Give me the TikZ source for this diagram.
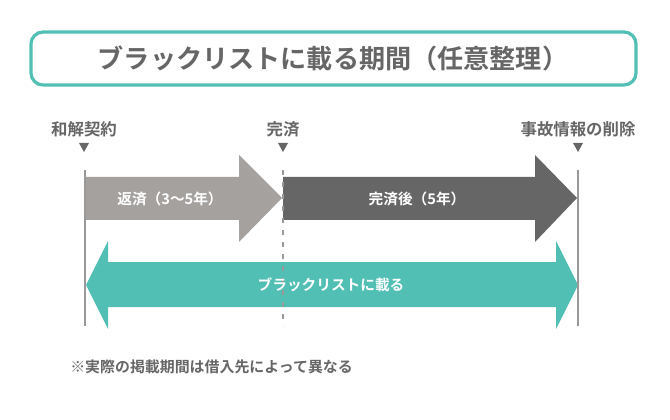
\documentclass[tikz,border=0pt]{standalone}
\usepackage{fontspec}
\setmainfont{Noto Sans CJK JP}[BoldFont={* Bold}]
\newfontfamily\cjk{Noto Sans CJK JP Bold}
\definecolor{tealc}{RGB}{82,191,180}
\definecolor{lgray}{RGB}{165,161,159}
\definecolor{dgray}{RGB}{102,102,102}
\begin{document}
\begin{tikzpicture}[x=0.75pt,y=-0.75pt,
  txt/.style={font=\cjk, text=dgray, inner sep=0pt},
  lbl/.style={txt, font=\cjk\fontsize{12.3}{14}\selectfont},
  wtxt/.style={font=\cjk\fontsize{11}{12}\selectfont, text=white, inner sep=0pt},
  vline/.style={draw=black!40, line width=1.6pt},
]
\useasboundingbox (0,0) rectangle (670,420);
\fill[white] (0,0) rectangle (670,420);
% title
\draw[draw=tealc, line width=2.4pt, rounded corners=9pt, fill=white]
  (31,32) rectangle (636,85);
\node[txt, font=\cjk\fontsize{19.6}{22}\selectfont] (title) at (333,58) {ブラックリストに載る期間（任意整理）};
% labels
\node[lbl] (l1) at (84,129) {和解契約};
\node[lbl] (l2) at (283,129) {完済};
\node[lbl] (l3) at (578,129) {事故情報の削除};
\fill[dgray] (79,143) -- (89,143) -- (84,152) -- cycle;
\fill[dgray] (278,143) -- (288,143) -- (283,152) -- cycle;
\fill[dgray] (573,143) -- (583,143) -- (578,152) -- cycle;
% arrows
\fill[lgray] (86,177) -- (239,177) -- (239,155) -- (282,198) -- (239,242) -- (239,220) -- (86,220) -- cycle;
\fill[dgray] (283,177) -- (535,177) -- (535,155) -- (577,198) -- (535,242) -- (535,220) -- (283,220) -- cycle;
\fill[tealc] (86,285) -- (108,241) -- (108,262) -- (556,262) -- (556,241) -- (578,285) -- (556,329) -- (556,307) -- (108,307) -- (108,329) -- cycle;
% vertical lines
\coordinate (v1t) at (85,170); \coordinate (v1b) at (85,326);
\coordinate (v3t) at (578,170); \coordinate (v3b) at (578,326);
\coordinate (v2t) at (283,170); \coordinate (v2b) at (283,326);
\draw[vline] (v1t) -- (v1b);
\draw[vline] (v3t) -- (v3b);
\draw[draw=black!40, line width=1.6pt, dash pattern=on 3.5pt off 5.5pt] (v2t) -- (v2b);
% arrow texts
\node[wtxt] (a1) at (170,199) {返済（3〜5年）};
\node[wtxt] (a2) at (417,199) {完済後（5年）};
\node[wtxt] (a3) at (331,285) {ブラックリストに載る};
% footnote
\node[txt, anchor=west, font=\cjk\fontsize{11.2}{13}\selectfont] (note) at (70,367) {※実際の掲載期間は借入先によって異なる};
\end{tikzpicture}
\end{document}
